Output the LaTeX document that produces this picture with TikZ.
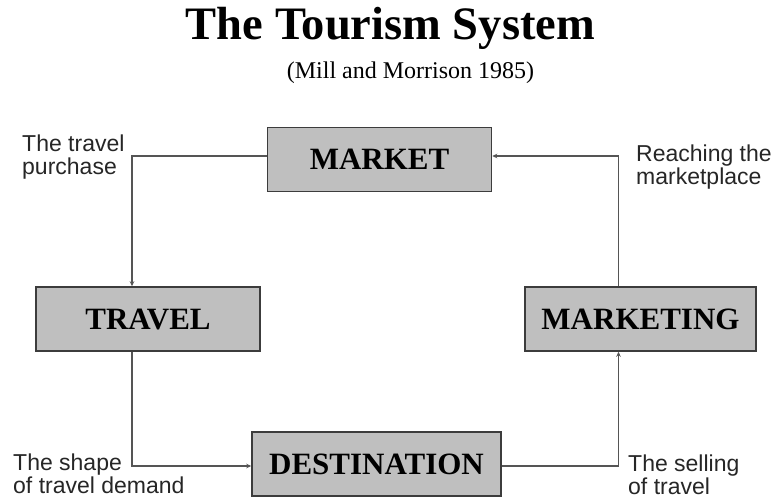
\documentclass[tikz,border=0pt]{standalone}
\usepackage{fontspec}
\setmainfont{Liberation Serif}
\newfontfamily\arialfont{Liberation Sans}
\usetikzlibrary{arrows.meta}
\definecolor{boxfill}{RGB}{191,191,191}
\definecolor{boxline}{RGB}{60,60,60}
\definecolor{conn}{RGB}{85,85,85}
\tikzset{
  sysbox/.style={draw=boxline, line width=1.5pt, fill=boxfill, inner sep=0pt,
    minimum height=64pt, font=\fontsize{31}{34}\selectfont\bfseries},
  arr/.style={draw=conn, line width=1.2pt, -{Stealth[length=5pt,width=4.5pt]}},
  lbl/.style={font=\arialfont\fontsize{23}{22.5}\selectfont, align=left, inner sep=0pt, anchor=north west, text=black!85}
}
\begin{document}
\begin{tikzpicture}[x=1pt,y=-1pt]
\path[use as bounding box, fill=white] (0,0) rectangle (776,499);
\node[anchor=base, font=\fontsize{46.5}{50}\selectfont\bfseries] (title) at (390.5,39) {The Tourism System};
\node[anchor=base, font=\fontsize{24}{26}\selectfont] (sub) at (410.5,78) {(Mill and Morrison 1985)};

\node[sysbox, minimum width=224pt] (market) at (379.5,159.5) {\raisebox{-2pt}{MARKET}};
\node[sysbox, minimum width=224pt] (travel) at (148,319) {\raisebox{-2pt}{TRAVEL}};
\node[sysbox, minimum width=231pt] (marketing) at (640.5,319) {\raisebox{-2pt}{MARKETING}};
\node[sysbox, minimum width=249pt] (destination) at (376.5,464) {\raisebox{-2pt}{DESTINATION}};

\draw[arr] ([yshift=3.5pt]market.west) -| ([xshift=-16pt]travel.north);
\draw[arr] ([xshift=-16pt]travel.south) |- ([yshift=-2pt]destination.west);
\draw[arr] ([yshift=-2pt]destination.east) -| ([xshift=-22pt]marketing.south);
\draw[arr] ([xshift=-22pt]marketing.north) |- ([yshift=3.5pt]market.east);

\node[lbl] (l1) at (22,135) {The travel\\purchase};
\node[lbl] (l2) at (636,145) {Reaching the\\marketplace};
\node[lbl] (l3) at (13,454) {The shape\\of travel demand};
\node[lbl] (l4) at (628,455) {The selling\\of travel};
\end{tikzpicture}
\end{document}
